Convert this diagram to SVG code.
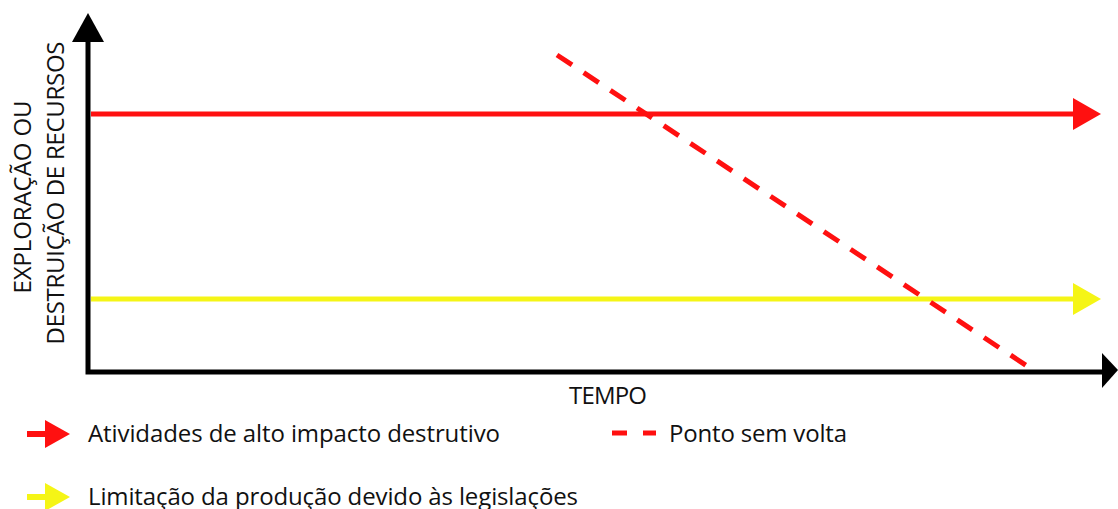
<svg xmlns="http://www.w3.org/2000/svg" width="1118" height="509" viewBox="0 0 1118 509">
<style>
text{font-family:"Open Sans","Noto Sans","Liberation Sans",sans-serif;fill:#111;font-size:24px}
</style>
<rect width="1118" height="509" fill="#fff"/>
<g id="axes">
<polyline points="88,40 88,372 1104,372" fill="none" stroke="#000" stroke-width="5"/>
<polygon points="72,42 104,42 88,13" fill="#000"/>
<polygon points="1102,353 1102,388 1118,370" fill="#000"/>
</g>
<g id="connectors">
<line x1="91" y1="114" x2="1075" y2="114" stroke="#ff1010" stroke-width="5"/>
<polygon points="1073,98 1073,130 1101,114" fill="#ff1010"/>
<line x1="91" y1="299" x2="1075" y2="299" stroke="#f5f516" stroke-width="5"/>
<polygon points="1073,283 1073,315 1101,299" fill="#f5f516"/>
<line x1="557" y1="55" x2="1027" y2="366" stroke="#ff1010" stroke-width="5" stroke-dasharray="18,14"/>
</g>
<g id="ylabel">
<text transform="translate(31,197) rotate(-90)" text-anchor="middle" textLength="193">EXPLORAÇÃO OU</text>
<text transform="translate(64,193) rotate(-90)" text-anchor="middle" textLength="303">DESTRUIÇÃO DE RECURSOS</text>
</g>
<g id="xlabel"><text x="608" y="404" text-anchor="middle" textLength="78">TEMPO</text></g>
<g id="legend-red">
<line x1="27" y1="434" x2="47" y2="434" stroke="#ff1010" stroke-width="6"/>
<polygon points="45,420 45,448 70,434" fill="#ff1010"/>
<text x="88" y="442" textLength="412">Atividades de alto impacto destrutivo</text>
</g>
<g id="legend-dash">
<line x1="612" y1="433" x2="627" y2="433" stroke="#ff1010" stroke-width="5"/>
<line x1="643" y1="433" x2="656" y2="433" stroke="#ff1010" stroke-width="5"/>
<text x="669" y="442" textLength="178">Ponto sem volta</text>
</g>
<g id="legend-yellow">
<line x1="27" y1="497" x2="47" y2="497" stroke="#f5f516" stroke-width="6"/>
<polygon points="45,483 45,511 70,497" fill="#f5f516"/>
<text x="88" y="505" textLength="490">Limitação da produção devido às legislações</text>
</g>
</svg>
